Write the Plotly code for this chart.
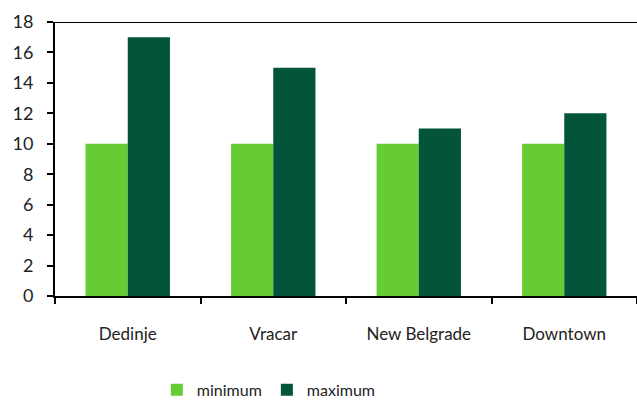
import plotly.graph_objects as go

categories = ["Dedinje", "Vracar", "New Belgrade", "Downtown"]
minimum = [10, 10, 10, 10]
maximum = [17, 15, 11, 12]
y_ticks = list(range(0, 19, 2))

light = "#66CC33"
dark = "#02553A"
font_family = "Lato, DejaVu Sans, sans-serif"

fig = go.Figure()
fig.add_bar(x=categories, y=minimum, name="minimum", marker=dict(color=light, line=dict(width=0)))
fig.add_bar(x=categories, y=maximum, name="maximum", marker=dict(color=dark, line=dict(width=0)))

fig.update_layout(
    width=637, height=403,
    margin=dict(l=55, r=0, t=22, b=107, autoexpand=False),
    paper_bgcolor="white", plot_bgcolor="white",
    barmode="group", bargap=0.42, bargroupgap=0,
    font=dict(family=font_family, size=16, color="#222222"),
    showlegend=True,
    legend=dict(orientation="h", x=0.175, xanchor="left", y=-0.405, yanchor="bottom",
                font=dict(size=16, color="#222222"), itemwidth=30, traceorder="normal"),
    shapes=[dict(type="line", xref="paper", yref="y", x0=0, x1=1, y0=18, y1=18,
                 line=dict(color="black", width=2))],
)
fig.update_xaxes(showline=True, linecolor="black", linewidth=2, ticks="outside",
                 tickson="boundaries", ticklen=6, tickwidth=2, tickcolor="black",
                 showgrid=False, ticklabelstandoff=22, tickfont=dict(size=17))
fig.update_yaxes(range=[0, 18], tickvals=y_ticks, showline=True, linecolor="black",
                 linewidth=2, ticks="outside", ticklen=6, tickwidth=2, tickcolor="black",
                 showgrid=False, zeroline=False, ticklabelstandoff=10, tickfont=dict(size=18))

fig.write_html("out.html")
